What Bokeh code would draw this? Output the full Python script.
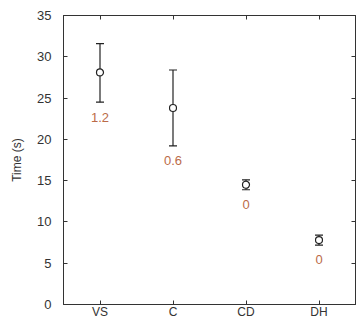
from bokeh.plotting import figure
from bokeh.models import (ColumnDataSource, Whisker, TeeHead, LinearAxis,
                          FixedTicker, Range1d)
from bokeh.core.properties import value
from bokeh.embed import file_html
from bokeh.resources import INLINE

categories = ["VS", "C", "CD", "DH"]
means = [28.1, 23.8, 14.5, 7.8]
lower = [24.5, 19.2, 13.9, 7.2]
upper = [31.6, 28.4, 15.1, 8.4]
annot = ["1.2", "0.6", "0", "0"]
annot_y = [22.6, 17.4, 12.1, 5.4]
y_ticks = [0, 5, 10, 15, 20, 25, 30, 35]

xpos = list(range(1, len(categories) + 1))
src = ColumnDataSource(dict(x=xpos, m=means, lo=lower, hi=upper, t=annot, ty=annot_y))

p = figure(width=356, height=321, output_backend="svg", toolbar_location=None,
           x_range=Range1d(0.5, len(categories) + 0.5), y_range=Range1d(0, 35),
           min_border_left=63, min_border_right=1, min_border_top=15, min_border_bottom=16)
p.background_fill_color = "white"
p.border_fill_color = "white"
p.grid.visible = False
p.outline_line_color = "#333333"

FONT = "Liberation Sans"

w = Whisker(source=src, base="x", lower="lo", upper="hi", line_color="#222222", line_width=1.2,
            upper_head=TeeHead(size=8, line_color="#222222", line_width=1.2),
            lower_head=TeeHead(size=8, line_color="#222222", line_width=1.2))
p.add_layout(w)
p.scatter(x="x", y="m", source=src, marker="circle", size=7, fill_color="white",
          line_color="#222222", line_width=1.2)
p.text(x="x", y="ty", text="t", source=src, text_color="#bb6b48", text_font=value(FONT),
       text_font_size="13px", text_align="center", text_baseline="middle")

for ax in (p.xaxis[0], p.yaxis[0]):
    ax.major_tick_in = 4
    ax.major_tick_out = 0
    ax.minor_tick_line_color = None
    ax.axis_line_color = "#333333"
    ax.major_tick_line_color = "#333333"
    ax.major_label_text_font = FONT
    ax.major_label_text_font_size = "13px"
    ax.major_label_text_color = "#333333"
p.xaxis[0].ticker = FixedTicker(ticks=xpos)
p.xaxis[0].major_label_overrides = {x: c for x, c in zip(xpos, categories)}
p.xaxis[0].major_label_standoff = 0
p.xaxis[0].major_label_text_font_size = "12px"
p.yaxis[0].ticker = FixedTicker(ticks=y_ticks)
p.yaxis[0].major_label_standoff = 12
p.yaxis[0].axis_label = "Time (s)"
p.yaxis[0].axis_label_text_font = FONT
p.yaxis[0].axis_label_text_font_size = "12px"
p.yaxis[0].axis_label_text_font_style = "normal"
p.yaxis[0].axis_label_text_color = "#333333"
p.yaxis[0].axis_label_standoff = 10

ra = LinearAxis(ticker=FixedTicker(ticks=y_ticks),
                major_label_overrides={t: "" for t in y_ticks},
                major_tick_in=4, major_tick_out=0, minor_tick_line_color=None,
                axis_line_color="#333333", major_tick_line_color="#333333")
p.add_layout(ra, "right")
ta = LinearAxis(ticker=FixedTicker(ticks=xpos),
                major_label_overrides={x: "" for x in xpos},
                major_tick_in=4, major_tick_out=0, minor_tick_line_color=None,
                axis_line_color="#333333", major_tick_line_color="#333333")
p.add_layout(ta, "above")

open("out.html", "w").write(file_html(p, INLINE))
